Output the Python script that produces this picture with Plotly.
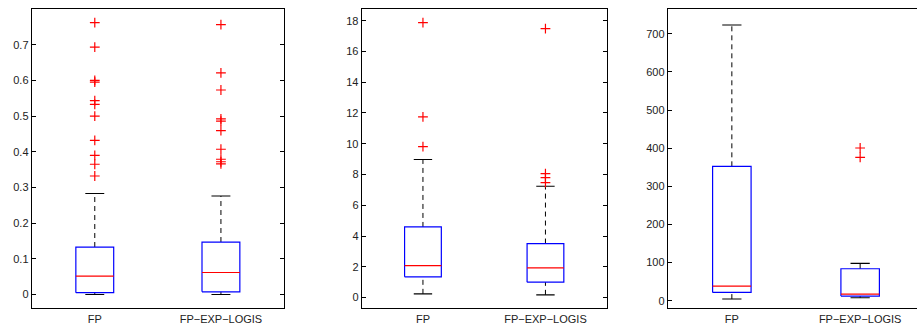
import plotly.graph_objects as go

W, H = 917, 325

categories = ["FP", "FP\u2212EXP\u2212LOGIS"]

# Panel 1
p1_q1 = [0.005, 0.0075]
p1_med = [0.0515, 0.0616]
p1_q3 = [0.133, 0.147]
p1_lo = [0.0, 0.0]
p1_hi = [0.283, 0.276]
p1_out = [
    [0.762, 0.693, 0.600, 0.595, 0.543, 0.533, 0.500, 0.432, 0.390, 0.365, 0.332],
    [0.756, 0.621, 0.573, 0.492, 0.486, 0.459, 0.407, 0.379, 0.372, 0.366],
]
p1_ticks = [0, 0.1, 0.2, 0.3, 0.4, 0.5, 0.6, 0.7]
p1_ticktext = ["0", "0.1", "0.2", "0.3", "0.4", "0.5", "0.6", "0.7"]

# Panel 2
p2_q1 = [1.345, 1.0]
p2_med = [2.08, 1.93]
p2_q3 = [4.59, 3.51]
p2_lo = [0.24, 0.175]
p2_hi = [8.97, 7.24]
p2_out = [
    [17.87, 11.74, 9.81],
    [17.48, 8.06, 7.8, 7.47],
]
p2_ticks = [0, 2, 4, 6, 8, 10, 12, 14, 16, 18]

# Panel 3
p3_q1 = [22.0, 12.3]
p3_med = [38.5, 17.6]
p3_q3 = [352.4, 83.9]
p3_lo = [4.5, 7.9]
p3_hi = [722.9, 98.0]
p3_out = [
    [],
    [400.4, 376.0],
]
p3_ticks = [0, 100, 200, 300, 400, 500, 600, 700]

panels = [
    dict(q1=p1_q1, med=p1_med, q3=p1_q3, lo=p1_lo, hi=p1_hi, out=p1_out,
         ticks=p1_ticks, ticktext=p1_ticktext, yr=[-0.0387, 0.800],
         px=(31.7, 284.0), xr=[0.5, 2.5], mirror_y="ticks"),
    dict(q1=p2_q1, med=p2_med, q3=p2_q3, lo=p2_lo, hi=p2_hi, out=p2_out,
         ticks=p2_ticks, ticktext=[str(t) for t in p2_ticks], yr=[-0.70, 18.76],
         px=(361.7, 606.7), xr=[0.5, 2.5], mirror_y="ticks"),
    dict(q1=p3_q1, med=p3_med, q3=p3_q3, lo=p3_lo, hi=p3_hi, out=p3_out,
         ticks=p3_ticks, ticktext=[str(t) for t in p3_ticks], yr=[-19.7, 764.7],
         px=(667.7, 917.0), xr=[0.5, 0.5 + (917.0 - 667.7) / 128.3], mirror_y=False),
]

BOX_HALF = 0.15
CAP_HALF = 0.075
BLUE = "#0000ff"
RED = "#ff0000"

fig = go.Figure()
layout = dict(
    width=W, height=H, margin=dict(l=0, r=0, t=0, b=0),
    paper_bgcolor="white", plot_bgcolor="white", showlegend=False,
    font=dict(family="Liberation Sans, Arial, sans-serif", size=11, color="#222222"),
)

ydom = [1 - 308.3 / H, 1 - 9.0 / H]

for i, p in enumerate(panels):
    n = i + 1
    xa = "x" if n == 1 else f"x{n}"
    ya = "y" if n == 1 else f"y{n}"
    for j, c in enumerate([1, 2]):
        # whiskers (dashed)
        fig.add_trace(go.Scatter(x=[c, c], y=[p["q3"][j], p["hi"][j]], mode="lines",
                                 line=dict(color="black", width=1, dash="5px,4px"),
                                 xaxis=xa, yaxis=ya, hoverinfo="skip"))
        fig.add_trace(go.Scatter(x=[c, c], y=[p["lo"][j], p["q1"][j]], mode="lines",
                                 line=dict(color="black", width=1, dash="5px,4px"),
                                 xaxis=xa, yaxis=ya, hoverinfo="skip"))
        # caps
        for v in (p["hi"][j], p["lo"][j]):
            fig.add_trace(go.Scatter(x=[c - CAP_HALF, c + CAP_HALF], y=[v, v], mode="lines",
                                     line=dict(color="black", width=1.1),
                                     xaxis=xa, yaxis=ya, hoverinfo="skip"))
        # box
        fig.add_trace(go.Scatter(
            x=[c - BOX_HALF, c + BOX_HALF, c + BOX_HALF, c - BOX_HALF, c - BOX_HALF],
            y=[p["q1"][j], p["q1"][j], p["q3"][j], p["q3"][j], p["q1"][j]],
            mode="lines", line=dict(color=BLUE, width=1.2),
            xaxis=xa, yaxis=ya, hoverinfo="skip"))
        # median
        fig.add_trace(go.Scatter(x=[c - BOX_HALF, c + BOX_HALF], y=[p["med"][j], p["med"][j]],
                                 mode="lines", line=dict(color=RED, width=1.2),
                                 xaxis=xa, yaxis=ya, hoverinfo="skip"))
        # outliers
        if p["out"][j]:
            fig.add_trace(go.Scatter(x=[c] * len(p["out"][j]), y=p["out"][j], mode="markers",
                                     marker=dict(symbol="cross-thin-open", size=7, color=RED,
                                                 line=dict(color=RED, width=1.2)),
                                     xaxis=xa, yaxis=ya, hoverinfo="skip"))

    xkey = "xaxis" if n == 1 else f"xaxis{n}"
    ykey = "yaxis" if n == 1 else f"yaxis{n}"
    layout[xkey] = dict(
        domain=[p["px"][0] / W, p["px"][1] / W], range=p["xr"], anchor=ya,
        tickvals=[1, 2], ticktext=categories, ticks="", showgrid=False, zeroline=False,
        showline=True, linecolor="black", linewidth=1, mirror=True, fixedrange=True,
        tickfont=dict(size=11),
    )
    layout[ykey] = dict(
        domain=ydom, range=p["yr"], anchor=xa,
        tickvals=p["ticks"], ticktext=p["ticktext"], ticks="inside", ticklen=4,
        tickcolor="black", tickwidth=1, showgrid=False, zeroline=False,
        showline=True, linecolor="black", linewidth=1, mirror=p["mirror_y"],
        fixedrange=True, tickfont=dict(size=11),
    )

fig.update_layout(**layout)
fig.write_html("out.html")
